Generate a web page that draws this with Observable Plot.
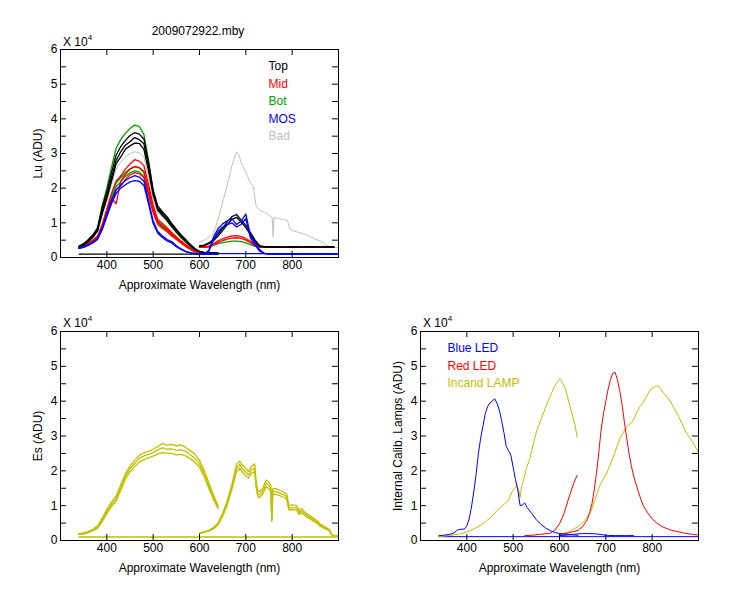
<!DOCTYPE html>
<html><head><meta charset="utf-8">
<script src="https://cdn.jsdelivr.net/npm/d3@7"></script>
<script src="https://cdn.jsdelivr.net/npm/@observablehq/plot@0.6"></script>
<style>
body{margin:0;background:#fff;font-family:Arial,"Liberation Sans",sans-serif;}
#wrap{position:relative;width:750px;height:600px;background:#fff;overflow:hidden;}
.p{position:absolute;}
.t{position:absolute;font-size:12px;line-height:12px;white-space:nowrap;color:#000;}
.t sup{font-size:8px;vertical-align:6px;line-height:0;}
</style></head><body>
<div id="wrap">
  <div class="p" id="pLu" style="left:0;top:0"></div>
  <div class="p" id="pEs" style="left:0;top:300px"></div>
  <div class="p" id="pLamp" style="left:360px;top:300px"></div>
  <div class="t" style="left:198px;top:25px;transform:translateX(-50%)">2009072922.mby</div>
  <div class="t" style="left:63px;top:36px">X 10<sup>4</sup></div>
  <div class="t" style="left:63px;top:317px">X 10<sup>4</sup></div>
  <div class="t" style="left:423px;top:317px">X 10<sup>4</sup></div>
</div>
<script>
// ---------- axes ----------
const X_DOMAIN = [300, 900];
const Y_DOMAIN = [0, 6];
const X_TICKS = [400, 500, 600, 700, 800];
const Y_TICKS = [0, 1, 2, 3, 4, 5, 6];
const Y_MINOR = [0, 0.5, 1, 1.5, 2, 2.5, 3, 3.5, 4, 4.5, 5, 5.5, 6];
const X_LABEL = "Approximate Wavelength (nm)";

// ---------- wavelength grids ----------
const WL_A = [340,350,360,370,380,390,400,410,420,430,440,450,460,470,480,490,500,510,520,530,540,550,560,570,580,590,600,610,620,630,640];
const WL_B = [600,610,620,630,640,650,660,670,680,690,700,710,720,730,740,750,760,770,780,790,800,810,820,830,840,850,860,870,880,890,900];

// ---------- Lu (top panel) ----------
const LU_LEGEND = ["Top", "Mid", "Bot", "MOS", "Bad"];
const LU_COLORS = ["#000000", "#ff0000", "#00a000", "#0000ff", "#c0c0c0"];

const luTopA1 = [0.33,0.40,0.52,0.66,0.85,1.45,1.90,2.45,2.95,3.20,3.38,3.52,3.60,3.56,3.42,2.75,1.95,1.48,1.32,1.18,0.98,0.82,0.66,0.52,0.38,0.26,0.18,0.15,0.14,0.13,0.13];
const luTopA2 = [0.31,0.37,0.48,0.62,0.80,1.35,1.80,2.30,2.80,3.05,3.24,3.34,3.46,3.40,3.28,2.62,1.88,1.42,1.27,1.13,0.94,0.79,0.63,0.49,0.36,0.24,0.17,0.14,0.13,0.13,0.12];
const luTopA3 = [0.30,0.35,0.46,0.58,0.76,1.25,1.70,2.20,2.70,2.90,3.12,3.22,3.30,3.29,3.12,2.50,1.80,1.36,1.22,1.08,0.90,0.75,0.60,0.47,0.34,0.23,0.16,0.14,0.13,0.12,0.12];
const luMidA1 = [0.30,0.34,0.42,0.50,0.62,0.95,1.40,1.85,2.20,2.35,2.55,2.70,2.82,2.78,2.65,2.10,1.50,1.10,0.98,0.86,0.72,0.60,0.48,0.37,0.27,0.19,0.14,0.13,0.12,0.12,0.12];
const luMidA2 = [0.28,0.32,0.40,0.48,0.58,0.88,1.30,1.72,1.55,2.20,2.40,2.55,2.62,2.60,2.48,1.95,1.40,1.02,0.90,0.80,0.67,0.56,0.45,0.35,0.25,0.18,0.13,0.12,0.12,0.11,0.11];
const luMidA3 = [0.27,0.31,0.38,0.45,0.55,0.82,1.20,1.60,1.95,2.05,2.25,2.38,2.45,2.42,2.30,1.82,1.30,0.95,0.84,0.74,0.62,0.52,0.42,0.32,0.23,0.16,0.12,0.12,0.11,0.11,0.11];
const luBotA1 = [0.32,0.38,0.50,0.62,0.82,1.50,2.00,2.60,3.15,3.40,3.58,3.72,3.82,3.78,3.55,2.80,1.90,1.38,1.20,1.05,0.88,0.72,0.57,0.44,0.32,0.22,0.16,0.14,0.13,0.12,0.12];
const luBotA2 = [0.28,0.33,0.41,0.49,0.60,0.92,1.35,1.78,2.15,2.30,2.45,2.56,2.62,2.58,2.45,1.95,1.40,1.05,0.93,0.82,0.69,0.57,0.46,0.36,0.26,0.18,0.13,0.12,0.12,0.11,0.11];
const luBotA3 = [0.27,0.32,0.39,0.47,0.57,0.88,1.28,1.68,2.05,2.18,2.34,2.44,2.50,2.47,2.34,1.86,1.33,1.00,0.88,0.78,0.66,0.54,0.44,0.34,0.25,0.17,0.13,0.12,0.11,0.11,0.11];
const luMosA1 = [0.27,0.30,0.37,0.44,0.55,0.85,1.25,1.65,1.95,2.10,2.22,2.30,2.36,2.32,2.20,1.65,1.05,0.75,0.62,0.52,0.46,0.34,0.25,0.18,0.14,0.11,0.10,0.10,0.10,0.10,0.10];
const luMosA2 = [0.26,0.29,0.35,0.42,0.52,0.80,1.18,1.55,1.85,2.00,2.10,2.18,2.22,2.20,2.08,1.55,0.98,0.70,0.58,0.48,0.42,0.31,0.23,0.17,0.13,0.11,0.10,0.10,0.10,0.10,0.10];
const luBadA  = [0.30,0.36,0.46,0.58,0.95,1.35,1.65,2.10,2.55,2.75,2.90,3.00,3.05,3.02,2.90,2.30,1.65,1.28,1.18,1.05,0.88,0.73,0.58,0.45,0.33,0.24,0.17,0.14,0.13,0.13,0.13];

const luTopB1 = [0.34,0.36,0.42,0.52,0.68,0.85,1.03,1.18,1.24,1.08,0.93,0.72,0.50,0.34,0.31,0.31,0.31,0.31,0.30,0.31,0.31,0.31,0.30,0.31,0.31,0.31,0.30,0.31,0.31,0.31,null];
const luTopB2 = [0.32,0.34,0.40,0.48,0.62,0.78,0.95,1.10,1.16,1.02,0.86,0.66,0.45,0.32,0.30,0.30,0.30,0.30,0.30,0.30,0.30,0.30,0.30,0.30,0.30,0.30,0.30,0.30,0.30,0.30,null];
const luMidB1 = [0.30,0.31,0.33,0.40,0.48,0.54,0.59,0.62,0.63,0.60,0.55,0.47,0.37,0.31,0.30,0.30,0.30,0.30,0.30,0.30,0.30,0.30,0.30,0.30,0.30,0.30,0.30,0.30,0.30,0.30,null];
const luMidB2 = [0.29,0.30,0.31,0.36,0.43,0.49,0.53,0.56,0.57,0.55,0.50,0.43,0.34,0.30,0.29,0.29,0.29,0.29,0.29,0.29,0.29,0.29,0.29,0.29,0.29,0.29,0.29,0.29,0.29,0.29,null];
const luBotB1 = [0.29,0.29,0.31,0.35,0.40,0.43,0.45,0.47,0.47,0.46,0.42,0.37,0.32,0.29,0.29,0.29,0.29,0.29,0.29,0.29,0.29,0.29,0.29,0.29,0.29,0.29,0.29,0.29,0.29,0.29,null];
const luMosB1 = [0.10,0.11,0.20,0.58,0.83,0.97,1.06,1.12,0.95,1.05,1.25,0.62,0.42,0.22,0.12,0.10,0.10,0.10,0.10,0.10,0.10,0.10,0.10,0.10,0.10,0.10,0.10,0.10,0.10,0.10,0.10];
const luMosB2 = [0.10,0.10,0.17,0.50,0.75,0.88,0.95,1.00,0.88,0.96,1.12,0.56,0.36,0.18,0.11,0.10,0.10,0.10,0.10,0.10,0.10,0.10,0.10,0.10,0.10,0.10,0.10,0.10,0.10,0.10,0.10];
const luBadWlB = [600,610,620,630,640,650,660,670,680,685,690,700,710,716,722,730,740,750,757,759,761,770,780,790,795,800,810,820,830,840,850,860,870,880,890,900];
const luBadB   = [0.44,0.50,0.58,0.68,1.10,1.60,2.10,2.65,3.05,2.95,2.75,2.45,2.15,2.05,1.50,1.36,1.30,1.22,1.16,0.60,1.16,1.12,1.10,1.07,0.82,0.78,0.74,0.70,0.66,0.60,0.53,0.48,0.40,0.30,0.29,0.28];
const luDarkWlA = [340, 640];
const luDarkA   = [0.10, 0.10];
const luDarkWlB = [640, 900];
const luDarkB   = [0.11, 0.11];

// ---------- Es (bottom-left) ----------
const ES_COLOR = "#c0c000";
const esA1 = [0.20,0.22,0.26,0.32,0.42,0.64,0.90,1.10,1.28,1.60,1.92,2.14,2.30,2.44,2.52,2.56,2.62,2.70,2.78,2.74,2.76,2.72,2.74,2.68,2.58,2.48,2.30,2.02,1.66,1.32,1.00];
const esA2 = [0.18,0.20,0.24,0.30,0.38,0.58,0.83,1.03,1.20,1.52,1.84,2.06,2.21,2.35,2.43,2.47,2.53,2.60,2.66,2.62,2.63,2.59,2.60,2.56,2.46,2.36,2.20,1.92,1.58,1.25,0.96];
const esA3 = [0.17,0.19,0.22,0.28,0.35,0.54,0.77,0.97,1.13,1.44,1.76,1.97,2.12,2.25,2.32,2.37,2.42,2.48,2.52,2.50,2.50,2.46,2.47,2.43,2.35,2.25,2.10,1.84,1.50,1.18,0.92];
const esWlB = [600,610,620,630,640,650,660,670,680,687,693,700,706,712,719,722,726,730,737,744,750,754,756,758,762,770,780,788,793,800,810,815,820,830,840,848,855,860,870,880,885,890,900];
const esB1 = [0.22,0.25,0.29,0.37,0.50,0.78,1.14,1.62,2.18,2.28,2.16,2.06,1.98,2.12,2.20,1.72,1.42,1.40,1.52,1.74,1.66,1.58,0.62,1.48,1.50,1.46,1.40,1.34,1.00,1.02,1.00,0.86,0.92,0.78,0.70,0.62,0.56,0.48,0.40,0.32,0.18,0.15,0.14];
const esB2 = [0.21,0.24,0.28,0.35,0.47,0.74,1.08,1.55,2.08,2.18,2.05,1.96,1.88,2.02,2.08,1.62,1.33,1.31,1.43,1.64,1.57,1.49,0.58,1.40,1.41,1.38,1.32,1.26,0.93,0.95,0.93,0.80,0.86,0.73,0.65,0.57,0.52,0.44,0.37,0.30,0.17,0.14,0.13];
const esB3 = [0.20,0.23,0.27,0.33,0.45,0.70,1.02,1.48,1.98,2.08,1.95,1.86,1.79,1.92,1.98,1.54,1.25,1.23,1.35,1.55,1.48,1.41,0.55,1.32,1.33,1.30,1.25,1.19,0.87,0.89,0.87,0.75,0.80,0.68,0.61,0.53,0.48,0.41,0.34,0.28,0.16,0.13,0.13];
const esDarkWl = [340, 900];
const esDark   = [0.10, 0.10];

// ---------- Calibration lamps (bottom-right) ----------
const LAMP_LEGEND = ["Blue LED", "Red LED", "Incand LAMP"];
const LAMP_COLORS = ["#0000ff", "#ff0000", "#c0c000"];
const blueWlA = [340,350,360,370,380,385,395,400,405,410,415,420,425,430,435,440,445,450,455,460,465,470,475,480,485,490,495,500,505,510,515,520,525,530,540,550,560,570,580,590,600,610,620,630,640];
const blueA   = [0.14,0.15,0.17,0.20,0.30,0.32,0.33,0.42,0.62,0.96,1.40,1.90,2.50,2.95,3.30,3.65,3.85,3.95,4.00,4.07,3.95,3.75,3.45,3.10,2.70,2.58,2.45,2.10,1.75,1.45,1.00,1.02,1.08,0.95,0.78,0.60,0.46,0.36,0.28,0.23,0.20,0.18,0.17,0.16,0.15];
const blueWlB = [600,620,640,650,660,680,700,720,740,760];
const blueB   = [0.14,0.16,0.19,0.20,0.20,0.19,0.15,0.14,0.14,0.14];
const blueDarkWl = [340, 900];
const blueDark   = [0.11, 0.11];
const redWlA = [525,540,560,580,590,600,610,620,630,638];
const redA   = [0.14,0.15,0.18,0.21,0.30,0.48,0.78,1.22,1.62,1.87];
const redWlB = [600,620,640,650,660,665,670,675,680,685,690,695,700,705,710,715,720,725,730,735,740,745,750,755,760,770,780,790,800,810,820,830,840,850,860,870,880,890,900];
const redB   = [0.17,0.22,0.29,0.40,0.60,0.80,1.05,1.45,1.95,2.55,3.20,3.65,4.00,4.35,4.62,4.80,4.83,4.62,4.30,3.90,3.40,2.95,2.50,2.15,1.85,1.40,1.02,0.80,0.62,0.50,0.41,0.35,0.30,0.27,0.24,0.21,0.19,0.17,0.16];
const lampWlA = [340,360,386,400,415,430,443,455,465,475,486,492,497,503,508,512,515,518,522,529,535,540,551,562,576,590,601,612,623,633,638];
const lampA   = [0.11,0.14,0.19,0.25,0.33,0.44,0.57,0.70,0.86,0.98,1.10,1.22,1.39,1.50,1.58,1.45,1.24,1.55,1.72,2.10,2.30,2.58,3.16,3.54,4.02,4.45,4.64,4.40,3.83,3.35,2.97];
const lampWlB = [600,620,644,655,666,676,687,701,716,730,744,759,766,773,780,787,795,802,809,816,823,838,856,873,888,899];
const lampB   = [0.17,0.25,0.43,0.58,0.77,1.15,1.58,1.91,2.39,2.92,3.25,3.44,3.65,3.83,3.95,4.11,4.31,4.38,4.45,4.40,4.26,4.02,3.59,3.11,2.82,2.54];

// ---------- helpers ----------
function rows(wl, vals, key) {
  return wl.map((w, i) => ({wl: w, v: vals[i], key})).filter(d => d.v != null);
}
function lines(list, color, sw) {
  const data = list.flatMap(([wl, vals], k) => rows(wl, vals, color + k));
  return Plot.line(data, {x: "wl", y: "v", z: "key", stroke: color, strokeWidth: sw});
}

const TICK_PX = 6;
function panel({width, height, ml, mr, mt, mb, ylabel, marks, legend, legendColors, legendDx, legendDy0, legendStep}) {
  const fw = width - ml - mr, fh = height - mt - mb;
  const yTickLen = (X_DOMAIN[1] - X_DOMAIN[0]) * TICK_PX / fw;
  const xTickLen = (Y_DOMAIN[1] - Y_DOMAIN[0]) * TICK_PX / fh;
  const legendMarks = legend.map((lab, i) => Plot.text([lab], {
    text: d => d, frameAnchor: "top-left", dx: legendDx, dy: legendDy0 + i * legendStep,
    textAnchor: "start", lineAnchor: "middle", fill: legendColors[i], fontSize: 12
  }));
  return Plot.plot({
    width, height,
    marginLeft: ml, marginRight: mr, marginTop: mt, marginBottom: mb,
    x: {domain: X_DOMAIN},
    y: {domain: Y_DOMAIN},
    style: {fontFamily: "Arial, 'Liberation Sans', sans-serif", fontSize: "12px", background: "#fff", overflow: "visible", color: "#000"},
    marks: [
      ...marks,
      Plot.ruleY(Y_MINOR, {x1: X_DOMAIN[0], x2: X_DOMAIN[0] + yTickLen, stroke: "#000"}),
      Plot.ruleY(Y_MINOR, {x1: X_DOMAIN[1] - yTickLen, x2: X_DOMAIN[1], stroke: "#000"}),
      Plot.ruleX(X_TICKS, {y1: Y_DOMAIN[0], y2: Y_DOMAIN[0] + xTickLen, stroke: "#000"}),
      Plot.ruleX(X_TICKS, {y1: Y_DOMAIN[1] - xTickLen, y2: Y_DOMAIN[1], stroke: "#000"}),
      Plot.frame({stroke: "#000", strokeWidth: 1}),
      Plot.axisX({ticks: X_TICKS, tickFormat: d => String(d), tickSize: 0, tickPadding: 3, label: null, fontSize: 12}),
      Plot.axisY({ticks: Y_TICKS, tickFormat: d => String(d), tickSize: 0, tickPadding: 3, label: null, fontSize: 12}),
      Plot.text([X_LABEL], {text: d => d, frameAnchor: "bottom", dy: 28, textAnchor: "middle", lineAnchor: "middle", fontSize: 12}),
      Plot.text([ylabel], {text: d => d, frameAnchor: "left", rotate: -90, dx: -22, textAnchor: "middle", lineAnchor: "middle", fontSize: 12}),
      ...legendMarks
    ]
  });
}

// ---------- top: Lu ----------
const luMarks = [
  lines([[WL_A, luBadA], [luBadWlB, luBadB]], LU_COLORS[4], 1),
  lines([[WL_A, luBotA1], [WL_A, luBotA2], [WL_A, luBotA3], [WL_B, luBotB1]], LU_COLORS[2], 1.3),
  lines([[WL_A, luMidA1], [WL_A, luMidA2], [WL_A, luMidA3], [WL_B, luMidB1], [WL_B, luMidB2]], LU_COLORS[1], 1.3),
  lines([[WL_A, luTopA1], [WL_A, luTopA2], [WL_A, luTopA3], [WL_B, luTopB1], [WL_B, luTopB2], [luDarkWlA, luDarkA]], LU_COLORS[0], 1.3),
  lines([[WL_A, luMosA1], [WL_A, luMosA2], [WL_B, luMosB1], [WL_B, luMosB2], [luDarkWlB, luDarkB]], LU_COLORS[3], 1.3)
];
document.getElementById("pLu").append(panel({
  width: 360, height: 300, ml: 60, mr: 22, mt: 49, mb: 43,
  ylabel: "Lu (ADU)", marks: luMarks,
  legend: LU_LEGEND, legendColors: LU_COLORS, legendDx: 208, legendDy0: 17, legendStep: 17.4
}));

// ---------- bottom-left: Es ----------
const esMarks = [
  lines([[WL_A, esA1], [WL_A, esA2], [WL_A, esA3], [esWlB, esB1], [esWlB, esB2], [esWlB, esB3], [esDarkWl, esDark]], ES_COLOR, 1.3)
];
document.getElementById("pEs").append(panel({
  width: 360, height: 300, ml: 60, mr: 22, mt: 31, mb: 60,
  ylabel: "Es (ADU)", marks: esMarks,
  legend: [], legendColors: [], legendDx: 0, legendDy0: 0, legendStep: 0
}));

// ---------- bottom-right: lamps ----------
const lampMarks = [
  lines([[blueDarkWl, blueDark]], LAMP_COLORS[0], 1),
  lines([[lampWlA, lampA], [lampWlB, lampB]], LAMP_COLORS[2], 1),
  lines([[redWlA, redA], [redWlB, redB]], LAMP_COLORS[1], 1),
  lines([[blueWlA, blueA], [blueWlB, blueB]], LAMP_COLORS[0], 1)
];
document.getElementById("pLamp").append(panel({
  width: 390, height: 300, ml: 60, mr: 52, mt: 31, mb: 60,
  ylabel: "Internal Calib. Lamps (ADU)", marks: lampMarks,
  legend: LAMP_LEGEND, legendColors: LAMP_COLORS, legendDx: 27, legendDy0: 17, legendStep: 17.2
}));
</script>
</body></html>
